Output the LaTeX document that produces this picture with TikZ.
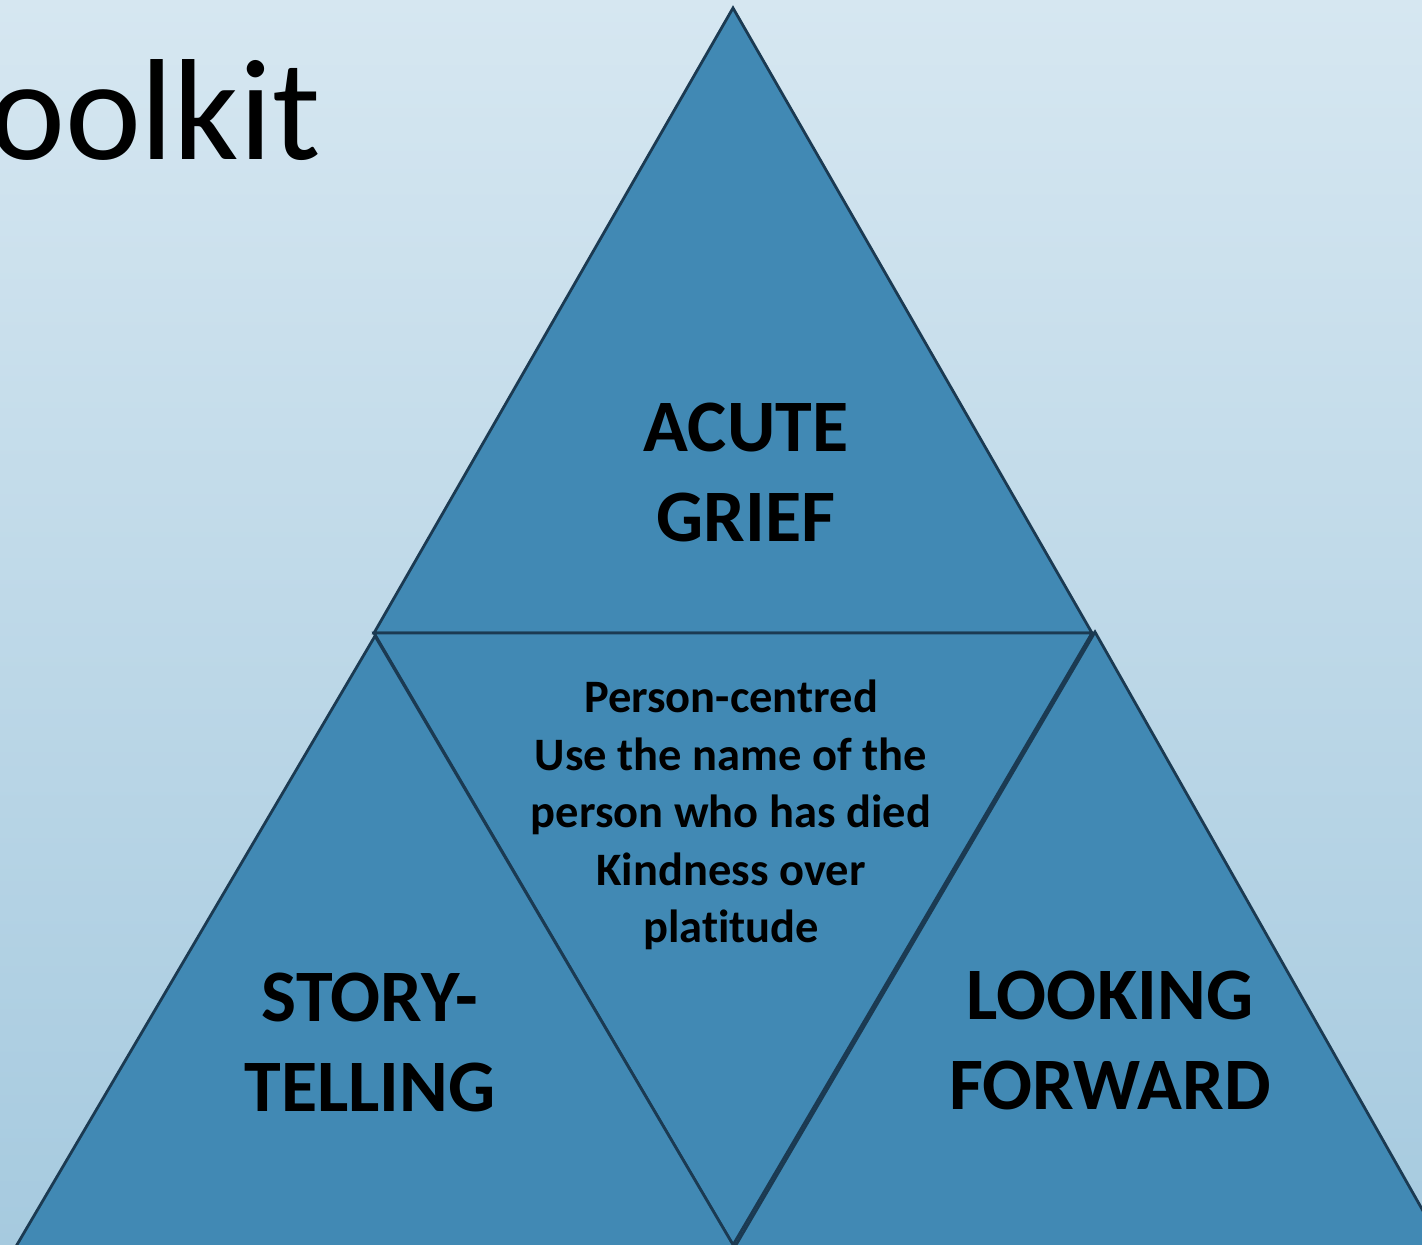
\documentclass[tikz,border=0pt]{standalone}
\usepackage{fontspec}
\setmainfont{Carlito}[Ligatures=NoCommon]
\begin{document}
\begin{tikzpicture}[x=1pt,y=-1pt]
\definecolor{bgtop}{HTML}{D6E7F1}
\definecolor{bgbot}{HTML}{A6CADF}
\definecolor{tri}{HTML}{4189B4}
\definecolor{edge}{HTML}{1B3A52}
\tikzset{
  piece/.style={fill=tri,draw=edge,line width=2.8pt,line join=miter},
  bigword/.style={font=\bfseries\fontsize{74}{90}\selectfont,align=center,inner sep=0pt},
  smallword/.style={font=\bfseries\fontsize{46.5}{57.5}\selectfont,align=center,inner sep=0pt}
}
\useasboundingbox (0,0) rectangle (1422,1245);
\shade[top color=bgtop,bottom color=bgbot] (0,0) rectangle (1422,1245);

\begin{scope}
  \clip (0,0) rectangle (1422,1245);
  % upper triangle
  \draw[piece] (733,8) -- (374,633) -- (1092,633) -- cycle;
  % inverted centre triangle
  \draw[piece] (374,633) -- (1092,633) -- (733,1245) -- cycle;
  % lower left triangle
  \draw[piece] (375,636) -- (8,1260) -- (742,1260) -- cycle;
  % lower right triangle
  \draw[piece] (1095,632) -- (726,1262) -- (1452,1262) -- cycle;
\end{scope}

\node[anchor=base west,inner sep=0pt,font=\fontsize{144}{170}\selectfont] (title) at (-11,159) {oolkit};

\node[bigword] (acute) at (746,472) {ACUTE\\GRIEF};
\node[bigword] (story) at (370,1042) {STORY-\\TELLING};
\node[bigword] (looking) at (1110,1040) {LOOKING\\FORWARD};
\node[smallword] (core) at (731,815) {Person-centred\\Use the name of the\\person who has died\\Kindness over\\platitude};
\end{tikzpicture}
\end{document}
